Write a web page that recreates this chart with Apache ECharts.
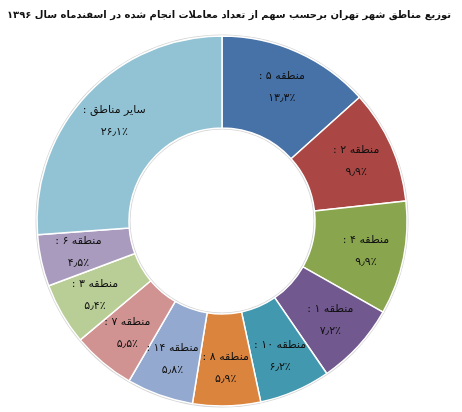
<!DOCTYPE html>
<html>
<head>
<meta charset="utf-8">
<script src="https://cdn.jsdelivr.net/npm/echarts@6/dist/echarts.min.js"></script>
<style>
  html, body { margin: 0; padding: 0; background: #fff; }
  #chart { width: 462px; height: 412px; }
</style>
</head>
<body>
<div id="chart"></div>
<script>
var titleText = 'توزیع مناطق شهر تهران برحسب سهم از تعداد معاملات انجام شده در اسفندماه سال ۱۳۹۶';
var regions = ['منطقه ۵', 'منطقه ۲', 'منطقه ۴', 'منطقه ۱', 'منطقه ۱۰', 'منطقه ۸', 'منطقه ۱۴', 'منطقه ۷', 'منطقه ۳', 'منطقه ۶', 'سایر مناطق'];
var shares = [13.3, 9.9, 9.9, 7.2, 6.2, 5.9, 5.8, 5.5, 5.4, 4.5, 26.1];
var colors = ['#4672A8', '#AA4644', '#89A54E', '#71588F', '#4198AF', '#DB843D', '#93A9CF', '#D19392', '#B9CD96', '#A99BBD', '#92C3D4'];

var cx = 222, cy = 221;
var labelR = 147; // برچسب‌ها کمی بیرون‌تر از وسط حلقه

// اعداد فارسی
function fa(n) {
  return String(n).replace(/\d/g, function (d) { return '۰۱۲۳۴۵۶۷۸۹'[d]; }).replace('.', '٫');
}

var chart = echarts.init(document.getElementById('chart'));
var option = {
  backgroundColor: '#fff',
  title: {
    text: titleText,
    right: 6,
    top: 5,
    textStyle: { fontFamily: 'DejaVu Sans', fontSize: 10, fontWeight: 'bold', color: '#111' }
  },
  series: [
    {
      // حاشیه خاکستری دور حلقه
      type: 'pie',
      silent: true,
      radius: [91.5, 186.5],
      center: [cx, cy],
      label: { show: false },
      itemStyle: { color: '#d6d6d6' },
      data: [1],
      z: 1
    },
    {
      type: 'pie',
      radius: [93, 185],
      center: [cx, cy],
      startAngle: 90,
      clockwise: true,
      avoidLabelOverlap: false,
      z: 2,
      itemStyle: { borderColor: '#fff', borderWidth: 1.5 },
      label: {
        show: true,
        position: 'inside',
        fontFamily: 'DejaVu Sans',
        fontSize: 11,
        color: '#111',
        lineHeight: 22,
        formatter: function (p) {
          return p.name + ' :\u200F\n' + fa(p.value) + '٪';
        }
      },
      labelLayout: function (params) {
        var r = params.labelRect;
        var mx = r.x + r.width / 2, my = r.y + r.height / 2;
        var dx = mx - cx, dy = my - cy;
        var d = Math.sqrt(dx * dx + dy * dy);
        return {
          x: cx + dx / d * labelR,
          y: cy + dy / d * labelR,
          align: 'center',
          verticalAlign: 'middle',
          hideOverlap: false
        };
      },
      labelLine: { show: false },
      emphasis: { disabled: true },
      data: regions.map(function (r, i) {
        return { name: r, value: shares[i], itemStyle: { color: colors[i] } };
      })
    }
  ]
};
chart.setOption(option);
</script>
</body>
</html>
